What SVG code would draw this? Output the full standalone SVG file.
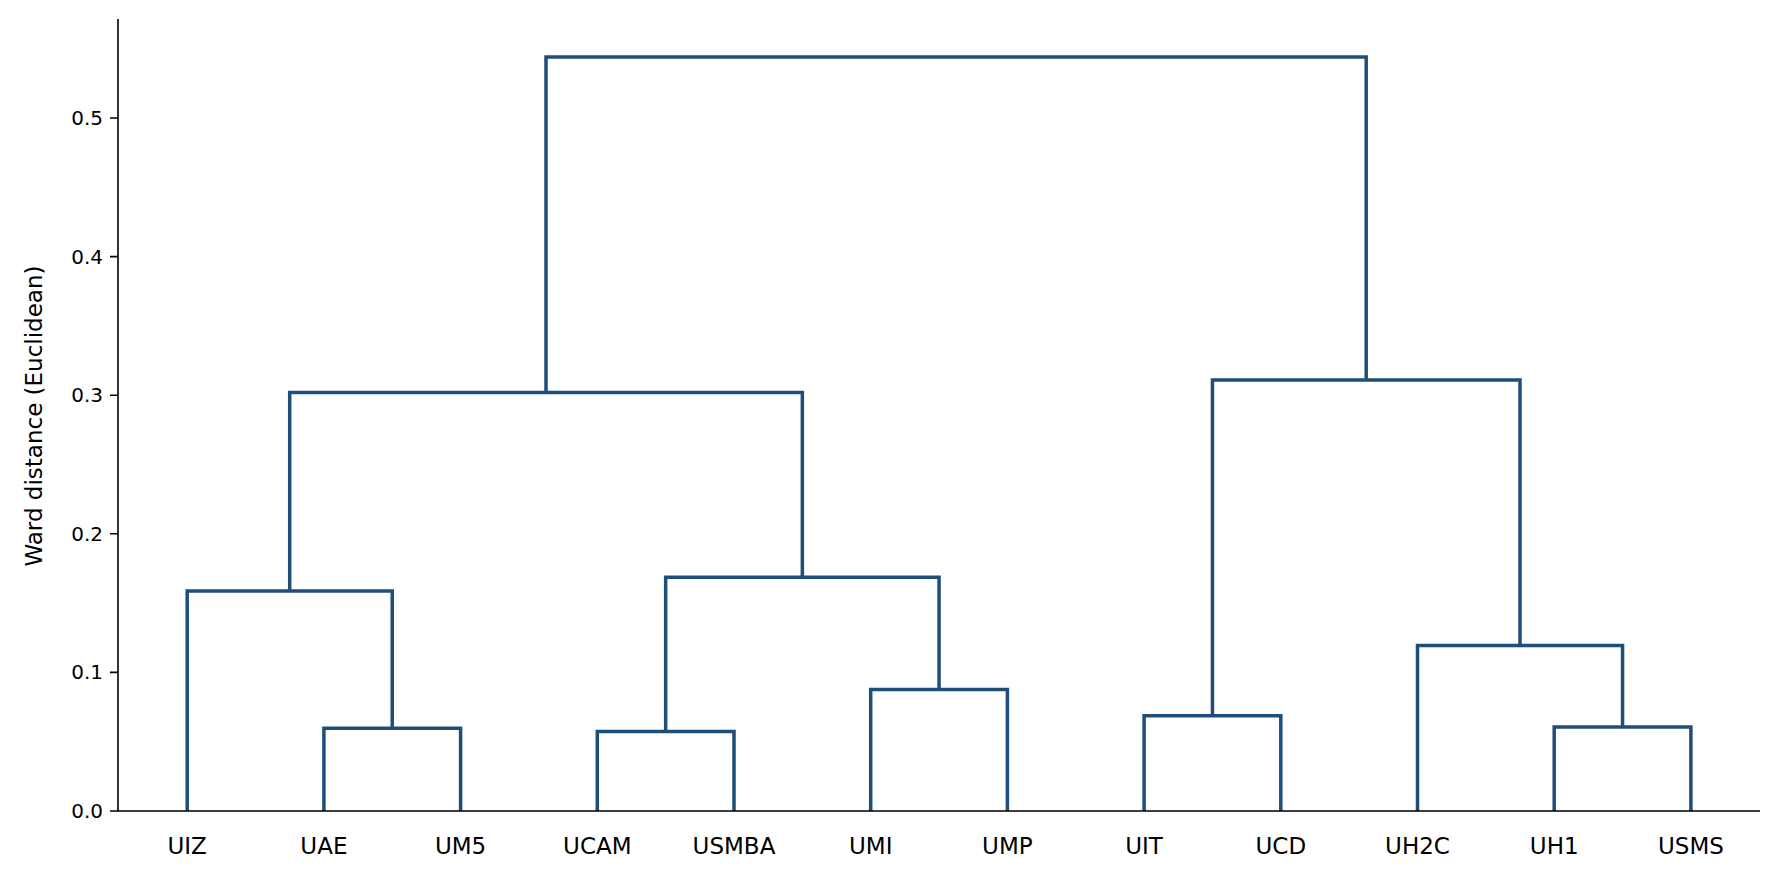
<svg xmlns="http://www.w3.org/2000/svg" width="1779" height="879" viewBox="0 0 1779 879">
<style>
.l{fill:none;stroke:#1f4e79;stroke-width:3.5;stroke-linejoin:miter}
.ax{stroke:#000;stroke-width:1.6;fill:none}
.t{font-family:"DejaVu Sans",sans-serif;font-size:20px;fill:#000}
.xt{font-family:"DejaVu Sans",sans-serif;font-size:23px;fill:#000;text-anchor:middle}
.yl{font-family:"DejaVu Sans",sans-serif;font-size:23px;fill:#000;text-anchor:middle}
</style>
<rect width="1779" height="879" fill="#fff"/>
<g id="connectors">
<path class="l" d="M323.9,811V728.3H460.6V811"/>
<path class="l" d="M187.2,811V590.9H392.25V728.3"/>
<path class="l" d="M597.3,811V731.6H734V811"/>
<path class="l" d="M870.7,811V689.6H1007.4V811"/>
<path class="l" d="M665.65,731.6V577.3H939.05V689.6"/>
<path class="l" d="M289.7,590.9V392.4H802.35V577.3"/>
<path class="l" d="M1144.1,811V715.8H1280.8V811"/>
<path class="l" d="M1554.2,811V727H1690.9V811"/>
<path class="l" d="M1417.5,811V645.4H1622.55V727"/>
<path class="l" d="M1212.45,715.8V380H1520V645.4"/>
<path class="l" d="M546,392.4V57H1366.2V380"/>
</g>
<g id="axes">
<path class="ax" d="M118,19V811H1760"/>
<path class="ax" d="M110,811H118M110,672.4H118M110,533.8H118M110,395.2H118M110,256.6H118M110,118H118"/>
<g class="t" text-anchor="end">
<text x="103" y="818">0.0</text>
<text x="103" y="679.4">0.1</text>
<text x="103" y="540.8">0.2</text>
<text x="103" y="402.2">0.3</text>
<text x="103" y="263.6">0.4</text>
<text x="103" y="125">0.5</text>
</g>
<text class="yl" transform="translate(42,416) rotate(-90)">Ward distance (Euclidean)</text>
</g>
<g id="leaves" class="xt">
<text x="187.2" y="854">UIZ</text>
<text x="323.9" y="854">UAE</text>
<text x="460.6" y="854">UM5</text>
<text x="597.3" y="854">UCAM</text>
<text x="734" y="854">USMBA</text>
<text x="870.7" y="854">UMI</text>
<text x="1007.4" y="854">UMP</text>
<text x="1144.1" y="854">UIT</text>
<text x="1280.8" y="854">UCD</text>
<text x="1417.5" y="854">UH2C</text>
<text x="1554.2" y="854">UH1</text>
<text x="1690.9" y="854">USMS</text>
</g>
</svg>
